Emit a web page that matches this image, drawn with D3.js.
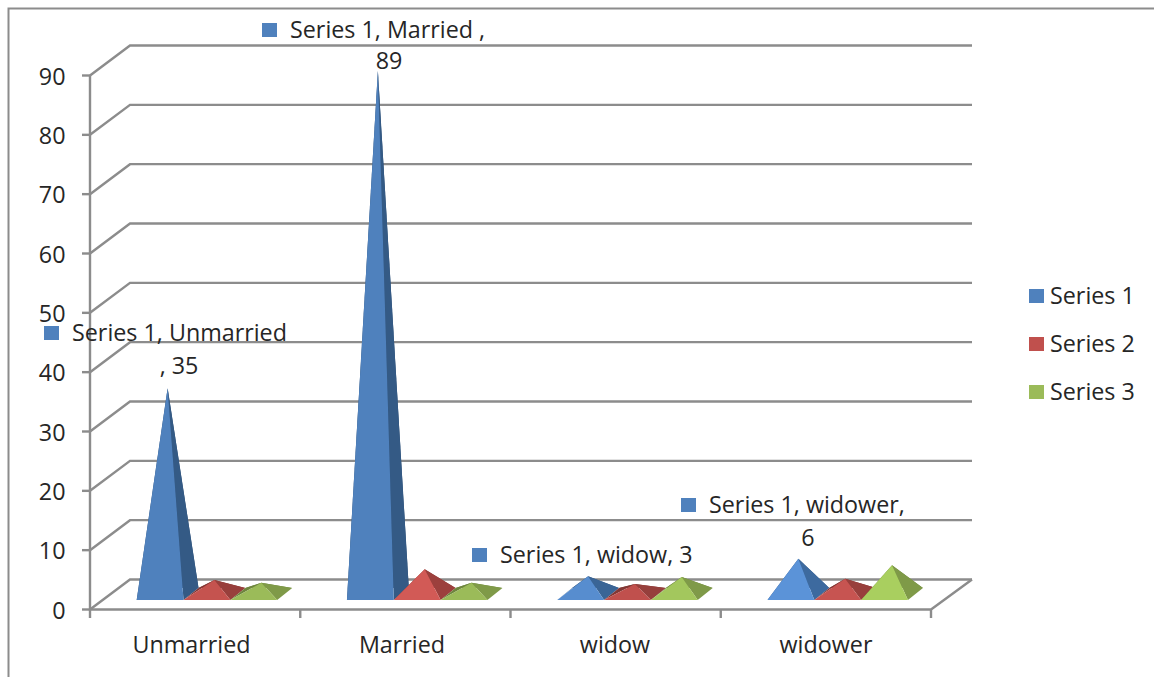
<!DOCTYPE html>
<html>
<head>
<meta charset="utf-8">
<script src="https://cdn.jsdelivr.net/npm/d3@7/dist/d3.min.js"></script>
<style>
html, body { margin: 0; padding: 0; background: #fff; overflow: hidden; }
svg { display: block; }
text { font-family: "Open Sans", Lato, sans-serif; fill: #262626; }
</style>
</head>
<body>
<svg id="chart" width="1154" height="677"></svg>
<script>
// Chart data
const categories = ["Unmarried", "Married", "widow", "widower"];
const seriesNames = ["Series 1", "Series 2", "Series 3"];
const series1 = [35, 89, 3, 6];
const series2 = [2.4, 4.2, 1.7, 2.6];
const series3 = [1.9, 1.9, 2.9, 4.9];
const yTicks = [0, 10, 20, 30, 40, 50, 60, 70, 80, 90];
const pointLabelText = [
  ["Series 1, Unmarried", ", 35"],
  ["Series 1, Married ,", "89"],
  ["Series 1, widow, 3"],
  ["Series 1, widower,", "6"]
];

const seriesValues = [series1, series2, series3];
const palette = [
  { front: "#4f81bd", side: "#345a85", bright: "#5b93d8", brightSide: "#3d6a9f" },
  { front: "#c0504d", side: "#963f3c", bright: "#d25a56", brightSide: "#9c403d" },
  { front: "#9bbb59", side: "#7f9a48", bright: "#a9cf5f", brightSide: "#7f9a48" }
];
const fontSize = 23.3;

const svg = d3.select("#chart");
const gridColor = "#8c8c8c";

// Frame around the chart area
svg.append("path")
  .attr("d", "M8.5,677V8.5H1154")
  .attr("fill", "none").attr("stroke", gridColor).attr("stroke-width", 2);

// Front plane of the value axis, and the plane through the pyramid centres
const y = d3.scaleLinear().domain([0, 90]).range([609.5, 75.5]);
const yMid = d3.scaleLinear().domain([0, 90]).range([594, 65]);
const x = d3.scaleBand().domain(categories).range([90, 931]);
const xInner = d3.scaleBand().domain(d3.range(seriesNames.length)).range([46.7, 187.2]);

const wallDx = 40, wallDy = -30, wallRight = 972;
const baseY = 600, pyramidDx = 15, pyramidDy = -12;

// Walls: gridlines on the back wall, diagonals on the side wall
const grid = svg.append("g").attr("fill", "none").attr("stroke", gridColor).attr("stroke-width", 2.4);
grid.selectAll("path").data(yTicks).join("path")
  .attr("d", t => `M90,${y(t)}L${90 + wallDx},${y(t) + wallDy}H${wallRight}`);

// Floor edges and axis lines
const axes = svg.append("g").attr("fill", "none").attr("stroke", gridColor).attr("stroke-width", 2.4);
axes.append("path").attr("d", `M${wallRight},${y(0) + wallDy}L931,${y(0)}H90V${y(90)}`);
axes.selectAll(".ytick").data(yTicks).join("path").attr("class", "ytick")
  .attr("d", t => `M82,${y(t)}H90`);
axes.selectAll(".xtick").data(x.domain().concat([null])).join("path").attr("class", "xtick")
  .attr("d", c => {
    const px = c === null ? x.range()[1] : x(c);
    return `M${px},${y(0)}V618`;
  });

// Low pyramids catch more light: shade by height
const glow = v => v >= 10 ? 0 : Math.max(0, Math.min(1, (v - 2) / 1.5));
const line = d3.line();
const marks = svg.append("g");
categories.forEach((cat, ci) => {
  seriesValues.forEach((vals, si) => {
    const v = vals[ci];
    const left = x(cat) + xInner(si);
    const right = left + xInner.bandwidth();
    const apex = [(left + right) / 2 + pyramidDx / 2, yMid(v)];
    const backLeft = [left + pyramidDx, baseY + pyramidDy];
    const backRight = [right + pyramidDx, baseY + pyramidDy];
    const c = palette[si];
    const t = glow(v);
    const frontFill = d3.interpolateRgb(c.front, c.bright)(t);
    const sideFill = d3.interpolateRgb(c.side, c.brightSide)(t);
    const g = marks.append("g");
    // Faces from back to front; the rear ones only show on very low pyramids
    g.append("path").attr("d", line([backLeft, backRight, apex]) + "Z").attr("fill", d3.color(sideFill).darker(0.4));
    g.append("path").attr("d", line([[left, baseY], backLeft, apex]) + "Z").attr("fill", d3.color(sideFill).darker(0.4));
    g.append("path").attr("d", line([[right, baseY], backRight, apex]) + "Z").attr("fill", sideFill);
    g.append("path").attr("d", line([[left, baseY], [right, baseY], apex]) + "Z").attr("fill", frontFill);
  });
});

// Value axis labels
svg.append("g").selectAll("text").data(yTicks).join("text")
  .attr("x", 65.5).attr("y", t => y(t) + 1)
  .attr("dy", "0.35em").attr("text-anchor", "end")
  .attr("font-size", fontSize).text(d => d);

// Category labels
const categoryLabelX = d3.scaleOrdinal().domain(categories).range([191.5, 402, 615, 826]);
svg.append("g").selectAll("text").data(categories).join("text")
  .attr("x", c => categoryLabelX(c))
  .attr("y", 645).attr("dy", "0.35em").attr("text-anchor", "middle")
  .attr("font-size", fontSize).text(d => d);

// Data point labels with their colour keys
const labelAnchor = [[72, 333, 179, 366], [290, 30, 389, 61], [500, 555], [709, 505, 808, 538]];
const pl = svg.append("g");
pointLabelText.forEach((lines, i) => {
  const [lx, ly, sx, sy] = labelAnchor[i];
  pl.append("rect").attr("x", lx - 28).attr("y", ly - 7).attr("width", 15).attr("height", 14)
    .attr("fill", palette[0].front);
  pl.append("text").attr("x", lx).attr("y", ly).attr("dy", "0.35em")
    .attr("font-size", fontSize).text(lines[0]);
  if (lines[1]) {
    pl.append("text").attr("x", sx).attr("y", sy).attr("dy", "0.35em")
      .attr("text-anchor", "middle").attr("font-size", fontSize).text(lines[1]);
  }
});

// Legend
const legendY = d3.scalePoint().domain(seriesNames).range([296, 392]);
const legend = svg.append("g").selectAll("g").data(seriesNames).join("g")
  .attr("transform", s => `translate(1029,${legendY(s)})`);
legend.append("rect").attr("y", -7).attr("width", 15).attr("height", 14)
  .attr("fill", (s, i) => palette[i].front);
legend.append("text").attr("x", 21).attr("dy", "0.35em")
  .attr("font-size", fontSize).text(s => s);
</script>
</body>
</html>
